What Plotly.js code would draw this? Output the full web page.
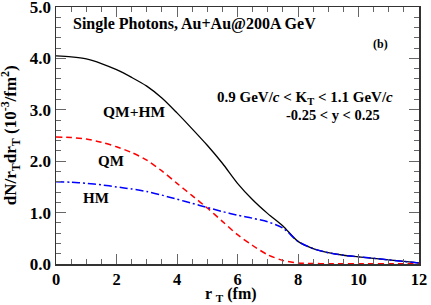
<!DOCTYPE html>
<html><head><meta charset="utf-8">
<script src="https://cdn.plot.ly/plotly-3.0.1.min.js"></script>
<style>html,body{margin:0;padding:0;background:#fff}#plot{width:431px;height:305px}</style>
</head><body><div id="plot"></div>
<script>
const rT = [0,0.5,1,1.5,2,2.5,3,3.5,4,4.5,5,5.5,6,6.5,7,7.5,8,8.5,9,9.5,10,10.5,11,11.5,12];
const qmhm = [4.05,4.03,3.99,3.9,3.78,3.63,3.46,3.23,2.94,2.63,2.31,1.96,1.57,1.25,0.98,0.74,0.44,0.3,0.22,0.17,0.14,0.11,0.08,0.05,0.02];
const qm = [2.47,2.46,2.43,2.37,2.28,2.17,2.02,1.81,1.57,1.33,1.09,0.83,0.57,0.36,0.18,0.07,0.02,0.01,0.005,0.005,0.005,0.005,0.005,0.005,0.005];
const hm = [1.6,1.59,1.57,1.54,1.5,1.46,1.41,1.34,1.26,1.18,1.1,1.02,0.95,0.89,0.82,0.7,0.44,0.3,0.22,0.17,0.14,0.11,0.08,0.05,0.02];
const xTicks = [0,2,4,6,8,10,12];
const yTicks = [0,1,2,3,4,5];
const yTickText = ['0.0','1.0','2.0','3.0','4.0','5.0'];

const F = 'Liberation Serif, Times New Roman, serif';
const traces = [
  {x: rT, y: qmhm, mode:'lines', line:{color:'#000', width:1.3, shape:'spline', smoothing:0.8}, name:'QM+HM'},
  {x: rT, y: qm, mode:'lines', line:{color:'#ff0000', width:1.5, dash:'6px,4px', shape:'spline', smoothing:0.8}, name:'QM'},
  {x: rT, y: hm, mode:'lines', line:{color:'#0000ff', width:1.5, dash:'8px,3px,2px,3px', shape:'spline', smoothing:0.8}, name:'HM'}
];
const ax = {
  showgrid:false, zeroline:false, showline:true, linecolor:'#333', linewidth:1.5, mirror:'allticks',
  ticks:'inside', ticklen:10, tickwidth:1, tickcolor:'#666', ticklabeloverflow:'allow',
  tickfont:{family:F, size:17, color:'#000', weight:'bold'}
};
const layout = {
  width:431, height:305, margin:{l:56, r:12, t:7, b:41},
  paper_bgcolor:'#fff', plot_bgcolor:'#fff', showlegend:false,
  xaxis: Object.assign({}, ax, {range:[0,12], tickvals:xTicks, ticktext:xTicks.map(String),
    tickfont:{family:F, size:16.5, color:'#000', weight:'bold'},
    minor:{dtick:0.5, ticks:'inside', ticklen:5, tickcolor:'#666', tickwidth:1}}),
  yaxis: Object.assign({}, ax, {range:[0,5], tickvals:yTicks, ticktext:yTickText,
    minor:{dtick:0.2, ticks:'inside', ticklen:5, tickcolor:'#666', tickwidth:1}}),
  annotations: [
    {xref:'paper', yref:'paper', x:0.04, y:0.934, xanchor:'left', yanchor:'middle', showarrow:false,
     text:'Single Photons, Au+Au@200A GeV', font:{family:F, size:16, color:'#000', weight:'bold'}},
    {xref:'paper', yref:'paper', x:0.895, y:0.856, xanchor:'center', yanchor:'middle', showarrow:false,
     text:'(b)', font:{family:F, size:12, color:'#000', weight:'bold'}},
    {xref:'paper', yref:'paper', x:0.934, y:0.646, xanchor:'right', yanchor:'middle', showarrow:false,
     text:'0.9 GeV/<i>c</i> &lt; K<sub>T</sub> &lt; 1.1 GeV/<i>c</i>', font:{family:F, size:15, color:'#000', weight:'bold'}},
    {xref:'paper', yref:'paper', x:0.898, y:0.578, xanchor:'right', yanchor:'middle', showarrow:false,
     text:'-0.25 &lt; y &lt; 0.25', font:{family:F, size:14.5, color:'#000', weight:'bold'}},
    {xref:'x', yref:'y', x:2.58, y:2.97, xanchor:'center', yanchor:'middle', showarrow:false,
     text:'QM+HM', font:{family:F, size:15.5, color:'#000', weight:'bold'}},
    {xref:'x', yref:'y', x:1.83, y:2.0, xanchor:'center', yanchor:'middle', showarrow:false,
     text:'QM', font:{family:F, size:15, color:'#000', weight:'bold'}},
    {xref:'x', yref:'y', x:1.31, y:1.29, xanchor:'center', yanchor:'middle', showarrow:false,
     text:'HM', font:{family:F, size:15, color:'#000', weight:'bold'}},
    {xref:'paper', yref:'paper', x:-0.125, y:0.5, xanchor:'center', yanchor:'middle', showarrow:false, textangle:-90,
     text:'dN/r<sub>T</sub>dr<sub>T</sub> (10<sup>-3</sup>/fm<sup>2</sup>)', font:{family:F, size:17, color:'#000', weight:'bold'}},
    {xref:'paper', yref:'paper', x:0.482, y:-0.12, xanchor:'center', yanchor:'middle', showarrow:false,
     text:'r <sub>T</sub> (fm)', font:{family:F, size:16, color:'#000', weight:'bold'}}
  ]
};
Plotly.newPlot('plot', traces, layout, {displayModeBar:false, staticPlot:true});
</script></body></html>
